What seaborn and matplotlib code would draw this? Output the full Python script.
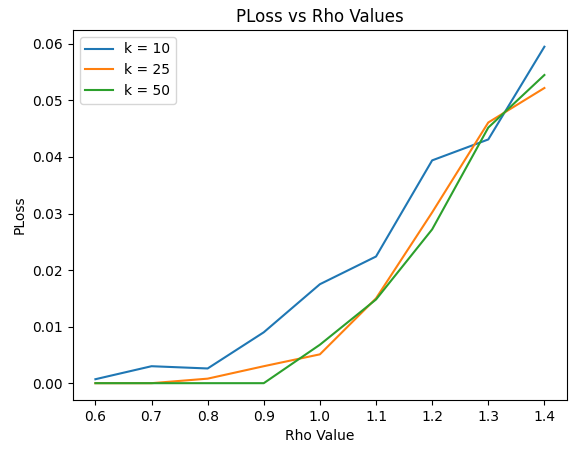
import pandas as pd
import seaborn as sns
import matplotlib.pyplot as plt

rho = [0.6, 0.7, 0.8, 0.9, 1.0, 1.1, 1.2, 1.3, 1.4]
ploss_k10 = [0.0007, 0.0030, 0.0026, 0.0090, 0.0175, 0.0224, 0.0394, 0.0431, 0.0595]
ploss_k25 = [0.0, 0.0, 0.0008, 0.0030, 0.0051, 0.0150, 0.0302, 0.0461, 0.0522]
ploss_k50 = [0.0, 0.0, 0.0, 0.0, 0.0068, 0.0148, 0.0272, 0.0452, 0.0545]

rows = []
for label, vals in [("k = 10", ploss_k10), ("k = 25", ploss_k25), ("k = 50", ploss_k50)]:
    for r, v in zip(rho, vals):
        rows.append({"rho": r, "ploss": v, "k": label})
df = pd.DataFrame(rows)

fig, ax = plt.subplots(figsize=(5.79, 4.53), dpi=100)
sns.lineplot(data=df, x="rho", y="ploss", hue="k", palette="tab10", ax=ax)
ax.set_title("PLoss vs Rho Values")
ax.set_xlabel("Rho Value")
ax.set_ylabel("PLoss")
ax.legend(loc="upper left")
fig.subplots_adjust(left=0.126, right=0.979, top=0.934, bottom=0.117)
plt.savefig("out.png", dpi=100)
